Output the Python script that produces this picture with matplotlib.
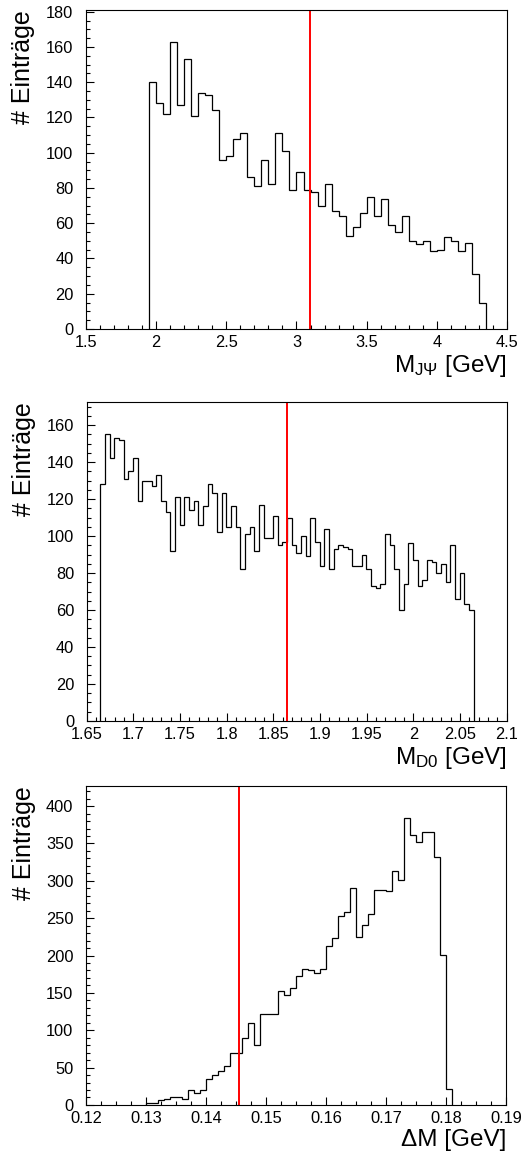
import numpy as np
import matplotlib
matplotlib.use('Agg')
import matplotlib.pyplot as plt
from matplotlib.ticker import MultipleLocator, FormatStrFormatter

plt.rcParams['font.family'] = ['Liberation Sans', 'DejaVu Sans']
plt.rcParams['mathtext.fontset'] = 'custom'
plt.rcParams['mathtext.rm'] = 'Liberation Sans'
plt.rcParams['mathtext.it'] = 'Liberation Sans'

# J/psi candidates, bins of 0.05 GeV starting at 1.95
jpsi_lo = 1.95
jpsi_width = 0.05
jpsi_counts = [140, 128, 122, 163, 127, 153, 121, 134, 133, 124,
               96, 98, 108, 111, 86, 81, 96, 82, 111, 101,
               79, 89, 79, 78, 70, 82, 67, 64, 53, 58,
               66, 75, 64, 74, 59, 55, 64, 50, 48, 50,
               44, 45, 52, 50, 44, 49, 31, 15]
jpsi_mass = 3.097

# D0 candidates, bins of 0.005 GeV
d0_lo = 1.6646
d0_width = 0.005
d0_counts = [128, 155, 142, 153, 152, 131, 135, 142, 119, 130,
             130, 127, 133, 119, 113, 92, 121, 106, 121, 114,
             119, 106, 116, 128, 123, 102, 123, 105, 116, 105,
             82, 101, 105, 92, 117, 99, 99, 111, 95, 97,
             110, 95, 91, 100, 89, 110, 97, 84, 104, 82,
             93, 95, 94, 93, 84, 84, 90, 82, 73, 72,
             74, 101, 95, 82, 60, 74, 96, 87, 73, 76,
             87, 86, 80, 85, 75, 95, 66, 80, 63, 60]
d0_mass = 1.8646

# delta M, bins of 0.001 GeV starting at 0.13
dm_lo = 0.130
dm_width = 0.001
dm_counts = [3, 3, 6, 8, 11, 10, 8, 20, 16, 20,
             35, 40, 45, 52, 69, 70, 89, 110, 80, 122,
             122, 122, 152, 147, 156, 172, 182, 180, 176, 182,
             213, 223, 253, 258, 291, 225, 241, 256, 288, 288,
             286, 313, 301, 384, 361, 352, 365, 366, 332, 201, 21]
dm_mass = 0.1455

fig = plt.figure(figsize=(5.25, 11.58), dpi=100)


def draw_panel(rect, counts, lo, width, mark, xlim, ylim, xticks, yticks, xlabel):
    ax = fig.add_axes(rect)
    edges = lo + width * np.arange(len(counts) + 1)
    ax.stairs(counts, edges, baseline=0, color='black', lw=0.9)
    ax.axvline(mark, color='red', lw=1.4)
    ax.set_xlim(*xlim)
    ax.set_ylim(*ylim)
    ax.xaxis.set_major_locator(MultipleLocator(xticks[0]))
    ax.xaxis.set_minor_locator(MultipleLocator(xticks[1]))
    ax.yaxis.set_major_locator(MultipleLocator(yticks[0]))
    ax.yaxis.set_minor_locator(MultipleLocator(yticks[1]))
    ax.xaxis.set_major_formatter(FormatStrFormatter('%g'))
    ax.tick_params(which='both', direction='in', top=False, right=False,
                   width=0.8, labelsize=11.8)
    ax.tick_params(which='major', length=6)
    ax.tick_params(which='minor', length=3)
    ax.tick_params(axis='x', pad=4)
    ax.tick_params(axis='y', pad=9)
    for s in ax.spines.values():
        s.set_linewidth(0.8)
    ax.set_xlabel(xlabel, fontsize=17.5, loc='right')
    ax.xaxis.set_label_coords(1.0, -0.075)
    ax.set_ylabel('# Einträge', fontsize=18, loc='top')
    ax.yaxis.set_label_coords(-0.12, 1.0)
    return ax


draw_panel([0.1638, 0.7159, 0.8019, 0.2755], jpsi_counts, jpsi_lo, jpsi_width,
           jpsi_mass, (1.5, 4.5), (0, 181), (0.5, 0.1), (20, 5),
           r'M$_{\mathrm{J\Psi}}$ [GeV]')
draw_panel([0.1651, 0.3774, 0.8, 0.2755], d0_counts, d0_lo, d0_width,
           d0_mass, (1.65, 2.1), (0, 172.5), (0.05, 0.01), (20, 5),
           r'M$_{\mathrm{D0}}$ [GeV]')
draw_panel([0.1638, 0.0458, 0.8, 0.2755], dm_counts, dm_lo, dm_width,
           dm_mass, (0.12, 0.19), (0, 427), (0.01, 0.0025), (50, 10),
           'ΔM [GeV]')

fig.savefig('out.png', dpi=100)
